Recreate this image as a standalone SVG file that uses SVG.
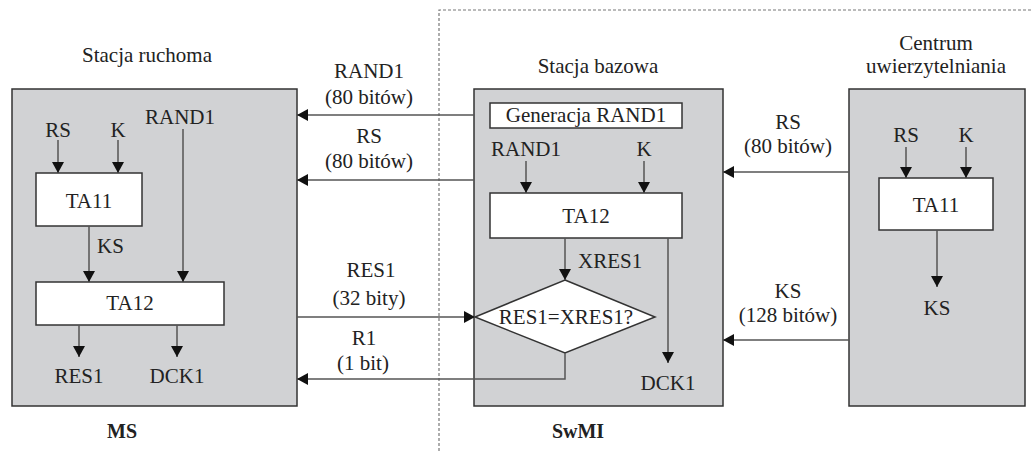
<svg xmlns="http://www.w3.org/2000/svg" width="1032" height="451" viewBox="0 0 1032 451" font-family="Liberation Serif, Times New Roman, serif">
<defs>
<marker id="ah" markerUnits="userSpaceOnUse" markerWidth="12" markerHeight="12" refX="11" refY="6" orient="auto">
<path d="M0,0 L11,6 L0,12 Z" fill="#111"/>
</marker>
<style>
text{font-size:21px;fill:#222;text-anchor:middle}
.b{font-weight:bold;font-size:20px}
.s{text-anchor:start}
.panel{fill:#d1d2d4;stroke:#333;stroke-width:1.5}
.blk{fill:#fff;stroke:#333;stroke-width:1.5}
.ar{fill:none;stroke:#555;stroke-width:1.5;marker-end:url(#ah)}
.dash{fill:none;stroke:#777;stroke-width:1.2;stroke-dasharray:3 2}
</style>
</defs>
<rect width="1032" height="451" fill="#fff"/>
<g id="boundary">
<path class="dash" d="M439,451 V10 H1032"/>
</g>
<g id="ms">
<rect class="panel" x="12" y="89" width="285" height="317"/>
<text x="147" y="62">Stacja ruchoma</text>
<text class="b" x="122" y="438">MS</text>
</g>
<g id="bs">
<rect class="panel" x="474" y="89" width="249" height="317"/>
<text x="598" y="73">Stacja bazowa</text>
<text class="b" x="578" y="438">SwMI</text>
</g>
<g id="ac">
<rect class="panel" x="849" y="89" width="176" height="317"/>
<text x="936" y="50">Centrum</text>
<text x="936" y="73">uwierzytelniania</text>
</g>
<g id="ms-ta11">
<rect class="blk" x="36" y="173" width="106" height="53"/>
<text x="89" y="208">TA11</text>
</g>
<g id="ms-ta12">
<rect class="blk" x="36" y="282" width="188" height="43"/>
<text x="130" y="310">TA12</text>
</g>
<g id="bs-gen">
<rect class="blk" x="490" y="103" width="192" height="25"/>
<text x="586" y="122">Generacja RAND1</text>
</g>
<g id="bs-ta12">
<rect class="blk" x="490" y="193" width="192" height="45"/>
<text x="586" y="223">TA12</text>
</g>
<g id="bs-cmp">
<polygon class="blk" points="565,280 655,317 565,353 475,317"/>
<text x="566" y="324">RES1=XRES1?</text>
</g>
<g id="ac-ta11">
<rect class="blk" x="879" y="178" width="114" height="52"/>
<text x="936" y="212">TA11</text>
</g>
<g id="connectors">
<path class="ar" d="M58,140 V173"/>
<path class="ar" d="M118,140 V173"/>
<path class="ar" d="M183,129 V282"/>
<path class="ar" d="M89,226 V282"/>
<path class="ar" d="M79,325 V357"/>
<path class="ar" d="M177,325 V357"/>
<path class="ar" d="M474,115 H297"/>
<path class="ar" d="M474,180 H297"/>
<path class="ar" d="M297,317 H475"/>
<path class="ar" d="M565,353 V379 H297"/>
<path class="ar" d="M849,172 H723"/>
<path class="ar" d="M849,340 H723"/>
<path class="ar" d="M526,161 V193"/>
<path class="ar" d="M644,161 V193"/>
<path class="ar" d="M565,238 V280"/>
<path class="ar" d="M668,238 V363"/>
<path class="ar" d="M906,147 V178"/>
<path class="ar" d="M966,147 V178"/>
<path class="ar" d="M937,230 V287"/>
</g>
<g id="labels">
<text x="58" y="137">RS</text>
<text x="118" y="137">K</text>
<text x="180" y="124">RAND1</text>
<text class="s" x="97" y="253">KS</text>
<text x="79" y="383">RES1</text>
<text x="177" y="383">DCK1</text>
<text x="369" y="78">RAND1</text>
<text x="369" y="104">(80 bitów)</text>
<text x="369" y="143">RS</text>
<text x="369" y="168">(80 bitów)</text>
<text x="371" y="277">RES1</text>
<text x="369" y="305">(32 bity)</text>
<text x="364" y="345">R1</text>
<text x="363" y="370">(1 bit)</text>
<text x="526" y="156">RAND1</text>
<text x="644" y="156">K</text>
<text class="s" x="578" y="268">XRES1</text>
<text x="668" y="390">DCK1</text>
<text x="788" y="129">RS</text>
<text x="788" y="153">(80 bitów)</text>
<text x="788" y="298">KS</text>
<text x="788" y="322">(128 bitów)</text>
<text x="906" y="142">RS</text>
<text x="966" y="142">K</text>
<text x="937" y="315">KS</text>
</g>
</svg>
